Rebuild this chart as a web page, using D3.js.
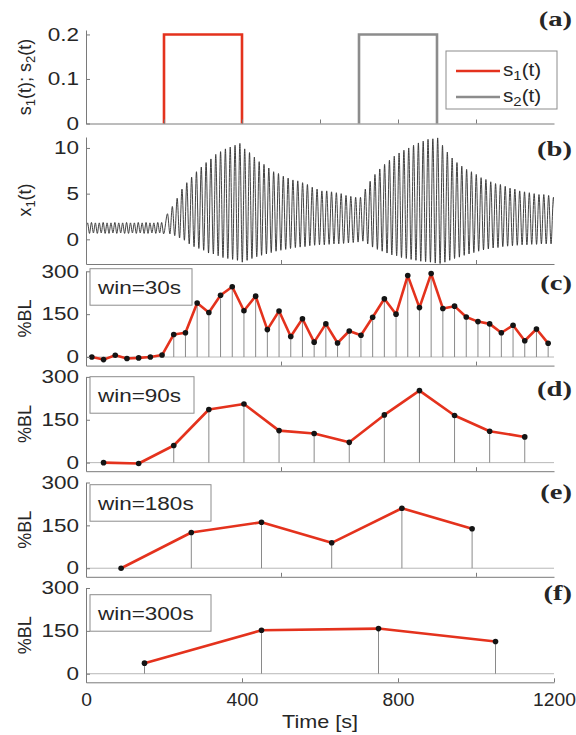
<!DOCTYPE html>
<html>
<head>
<meta charset="utf-8">
<script src="https://cdn.jsdelivr.net/npm/d3@7"></script>
<style>
  body { margin: 0; background: #fff; }
  svg text { font-family: "Liberation Sans", Arial, sans-serif; fill: #262626; }
</style>
</head>
<body>
<svg id="chart" width="576" height="735"></svg>
<script>
// (a) stimulus pulses
const s1Times = [200, 200, 400, 400];
const s1Values = [0, 0.2, 0.2, 0];
const s2Times = [700, 700, 900, 900];
const s2Values = [0, 0.2, 0.2, 0];

// (b) x1(t), read cycle by cycle: peak and following trough
const x1Start = 1.2;
const restStart = 4;        // s, first small peak
const restPeriod = 10;
const restPeaks = [1.8, 1.85, 1.8, 1.8, 1.85, 1.8, 1.8, 1.85, 1.8, 1.8,
  1.85, 1.8, 1.8, 1.85, 1.8, 1.85, 1.8, 1.8, 1.85, 1.85];
const restTroughs = [0.65, 0.7, 0.65, 0.7, 0.65, 0.65, 0.7, 0.65, 0.7, 0.65,
  0.65, 0.7, 0.65, 0.7, 0.65, 0.65, 0.7, 0.65, 0.7, 0.6];
const drivenStart = 209;    // s, first large peak
const drivenPeriod = 12.37;
const drivenPeaks = [2.8, 3.6, 4.5, 5.5, 6.2, 6.8, 7.4, 7.9, 8.4, 8.8,
  9.3, 9.6, 9.9, 10.1, 10.3, 10.5, 9.9, 9.5, 9.0, 8.5,
  8.2, 7.8, 7.4, 7.2, 6.9, 6.7, 6.5, 6.4, 6.2, 6.0,
  5.7, 5.5, 5.3, 5.3, 5.2, 5.1, 5.0, 4.8, 4.7, 4.6,
  4.6, 5.5, 6.35, 7.1, 7.7, 8.2, 8.65, 9.1, 9.45, 9.75,
  10.0, 10.3, 10.55, 10.75, 10.95, 11.0, 11.1, 10.3, 9.55, 8.9,
  8.4, 8.0, 7.65, 7.4, 7.1, 6.75, 6.55, 6.3, 6.1, 6.0,
  5.8, 5.6, 5.5, 5.3, 5.2, 5.1, 5.0, 4.9, 4.9, 4.8, 4.6];
const drivenTroughs = [0.6, 0.4, 0.15, -0.1, -0.5, -0.8, -1.0, -1.2, -1.5, -1.6,
  -1.8, -2.0, -2.1, -2.2, -2.3, -2.5, -2.3, -2.1, -1.9, -1.75,
  -1.6, -1.45, -1.3, -1.2, -1.1, -1.0, -0.9, -0.85, -0.8, -0.7,
  -0.65, -0.6, -0.6, -0.55, -0.5, -0.5, -0.45, -0.4, -0.35, -0.3,
  -0.2, -0.5, -0.85, -1.1, -1.3, -1.5, -1.7, -1.8, -2.0, -2.1,
  -2.2, -2.3, -2.4, -2.45, -2.5, -2.6, -2.65, -2.5, -2.3, -2.1,
  -1.95, -1.75, -1.6, -1.45, -1.3, -1.15, -1.05, -0.95, -0.9, -0.8,
  -0.75, -0.7, -0.65, -0.6, -0.6, -0.55, -0.55, -0.5, -0.5, -0.5, -0.5];

// (c)-(f) %BL per window
const windows = [30, 90, 180, 300];
const bl30 = [0, -9, 6, -5, -3, 0, 7, 79, 85, 189, 156, 216, 246, 162, 213, 96, 161, 72, 134,
  52, 116, 49, 91, 76, 139, 204, 150, 285, 173, 292, 170, 178, 140, 124, 116, 85, 111, 57, 98, 48];
const bl90 = [0, -3, 60, 186, 205, 112, 102, 71, 167, 252, 165, 110, 90];
const bl180 = [0, 125, 161, 89, 210, 138];
const bl300 = [37, 152, 158, 113];

const xTicksTop = [200, 400, 600, 800, 1000];
const xTicksMid = [500, 1000];
const xTicksBottom = [0, 400, 800, 1200];
const yTicksA = [0, 0.1, 0.2];
const yTicksB = [0, 5, 10];
const yTicksBL = [0, 150, 300];

const RED = "#e4321d";
const GRAY = "#8c8c8c";
const AXIS = "#7a7a7a";
const sx = 1.25; // lettering is wide in the original

const svg = d3.select("#chart");
const x = d3.scaleLinear().domain([0, 1200]).range([86, 554]);

function stretched(px, py, k = sx) {
  return svg.append("g").attr("transform", `translate(${px},${py}) scale(${k},1)`);
}

function rich(text, parts) {
  let down = false;
  parts.forEach(([str, sub]) => {
    const t = text.append("tspan").text(str);
    if (sub) { t.attr("font-size", "0.72em").attr("dy", down ? 0 : 4); down = true; }
    else if (down) { t.attr("dy", -4); down = false; }
  });
}

function yLabel(cy, parts) {
  const t = svg.append("text")
    .attr("transform", `translate(31,${cy}) rotate(-90)`)
    .attr("text-anchor", "middle")
    .attr("font-size", 18);
  rich(t, parts);
}

function panelTag(tag, baseline) {
  stretched(572, baseline, 1.3).append("text")
    .attr("text-anchor", "end")
    .style("font-family", '"Liberation Serif", "Times New Roman", serif')
    .attr("font-weight", "bold")
    .attr("font-size", 22)
    .attr("fill", "#111")
    .text(`(${tag})`);
}

function axes(y, yTicks, yFmt, xTicks, xLabels) {
  const ax = svg.append("g")
    .attr("transform", `translate(0,${y.range()[0]})`)
    .call(d3.axisBottom(x).tickValues(xTicks).tickSize(-4).tickSizeOuter(0)
      .tickPadding(11).tickFormat(xLabels ? d3.format("d") : () => ""));
  const ay = svg.append("g")
    .attr("transform", `translate(${x.range()[0]},0)`)
    .call(d3.axisLeft(y).tickValues(yTicks).tickSize(-4).tickSizeOuter(0)
      .tickPadding(5.5).tickFormat(yFmt));
  [ax, ay].forEach(a => {
    a.select(".domain").attr("stroke", AXIS);
    a.selectAll(".tick line").attr("stroke", AXIS);
    a.selectAll("text").attr("font-size", 18);
  });
  ay.selectAll("text").attr("transform", `scale(${sx},1)`);
  ax.selectAll("text").attr("transform", "scale(1.07,1)");
}

// ---- (a) stimuli
const ya = d3.scaleLinear().domain([0, 0.21]).range([123.5, 30]);
const lineA = d3.line().x(d => x(d[0])).y(d => ya(d[1]));
svg.append("path").datum(d3.zip(s1Times, s1Values)).attr("d", lineA)
  .attr("fill", "none").attr("stroke", RED).attr("stroke-width", 2.6);
svg.append("path").datum(d3.zip(s2Times, s2Values)).attr("d", lineA)
  .attr("fill", "none").attr("stroke", GRAY).attr("stroke-width", 2.6);
axes(ya, yTicksA, d => d === 0 ? "0" : d.toFixed(1), xTicksTop, false);
yLabel(77, [["s"], ["1", true], ["(t); s"], ["2", true], ["(t)"]]);
panelTag("a", 26);

const legend = svg.append("g");
legend.append("rect").attr("x", 446).attr("y", 51).attr("width", 111).attr("height", 58)
  .attr("fill", "#fff").attr("stroke", GRAY).attr("stroke-width", 1);
[["1", RED, 71], ["2", GRAY, 97]].forEach(([n, c, ly]) => {
  legend.append("line").attr("x1", 456).attr("x2", 500).attr("y1", ly).attr("y2", ly)
    .attr("stroke", c).attr("stroke-width", 2.6);
  const t = stretched(503, ly + 5, 1.15).append("text").attr("font-size", 18);
  rich(t, [["s"], [n, true], ["(t)"]]);
});

// ---- (b) x1(t)
const yb = d3.scaleLinear().domain([-2.7, 11.2]).range([264, 137]);
const x1Points = [[0, x1Start]];
restPeaks.forEach((p, i) => {
  const t = restStart + i * restPeriod;
  x1Points.push([t, p], [t + restPeriod / 2, restTroughs[i]]);
});
drivenPeaks.forEach((p, i) => {
  const t = drivenStart + i * drivenPeriod;
  x1Points.push([t, p], [t + drivenPeriod / 2, drivenTroughs[i]]);
});
svg.append("clipPath").attr("id", "clipB").append("rect")
  .attr("x", x(0)).attr("y", 120).attr("width", x(1200) - x(0)).attr("height", 150);
svg.append("path").datum(x1Points)
  .attr("clip-path", "url(#clipB)")
  .attr("d", d3.line().x(d => x(d[0])).y(d => yb(d[1])).curve(d3.curveMonotoneX))
  .attr("fill", "none").attr("stroke", "#2e2e2e").attr("stroke-width", 0.9);
axes(yb, yTicksB, d3.format("d"), xTicksMid, false);
yLabel(200, [["x"], ["1", true], ["(t)"]]);
panelTag("b", 156);

// ---- (c)-(f) %BL
const blSeries = [bl30, bl90, bl180, bl300];
const blTops = [271.3, 376.9, 482.5, 588];
const blTags = ["c", "d", "e", "f"];
const tagBase = [290, 396, 499, 600];
const boxTops = [268.7, 376.7, 484.7, 594.7];
const boxWidths = [102, 104, 121, 121];
const panelH = 94.3;

blSeries.forEach((vals, k) => {
  const top = blTops[k];
  const y = d3.scaleLinear().domain([-30, 300]).range([top + panelH, top]);
  const pts = vals.map((v, i) => [(i + 0.5) * windows[k], v]);
  const g = svg.append("g");

  g.append("line").attr("x1", x(0)).attr("x2", x(1200)).attr("y1", y(0)).attr("y2", y(0))
    .attr("stroke", "#b8b8b8").attr("stroke-width", 1);
  g.selectAll(".stem").data(pts).join("line")
    .attr("x1", d => x(d[0])).attr("x2", d => x(d[0]))
    .attr("y1", y(0)).attr("y2", d => y(d[1]))
    .attr("stroke", "#8a8a8a").attr("stroke-width", 1);
  g.append("path").datum(pts)
    .attr("d", d3.line().x(d => x(d[0])).y(d => y(d[1])))
    .attr("fill", "none").attr("stroke", RED).attr("stroke-width", 2.6)
    .attr("stroke-linejoin", "round");
  g.selectAll(".dot").data(pts).join("circle")
    .attr("cx", d => x(d[0])).attr("cy", d => y(d[1])).attr("r", 2.8)
    .attr("fill", "#141414");

  const last = k === blSeries.length - 1;
  axes(y, yTicksBL, d3.format("d"), last ? xTicksBottom : xTicksMid, last);
  yLabel(top + panelH / 2, [["%BL"]]);
  panelTag(blTags[k], tagBase[k]);

  svg.append("rect").attr("x", 90).attr("y", boxTops[k])
    .attr("width", boxWidths[k]).attr("height", 36.5)
    .attr("fill", "#fff").attr("stroke", GRAY).attr("stroke-width", 1);
  stretched(98, boxTops[k] + 25.5).append("text").attr("font-size", 18)
    .text(`win=${windows[k]}s`);
});

stretched(320, 728, 1.2).append("text")
  .attr("text-anchor", "middle").attr("font-size", 18).text("Time [s]");
</script>
</body>
</html>
